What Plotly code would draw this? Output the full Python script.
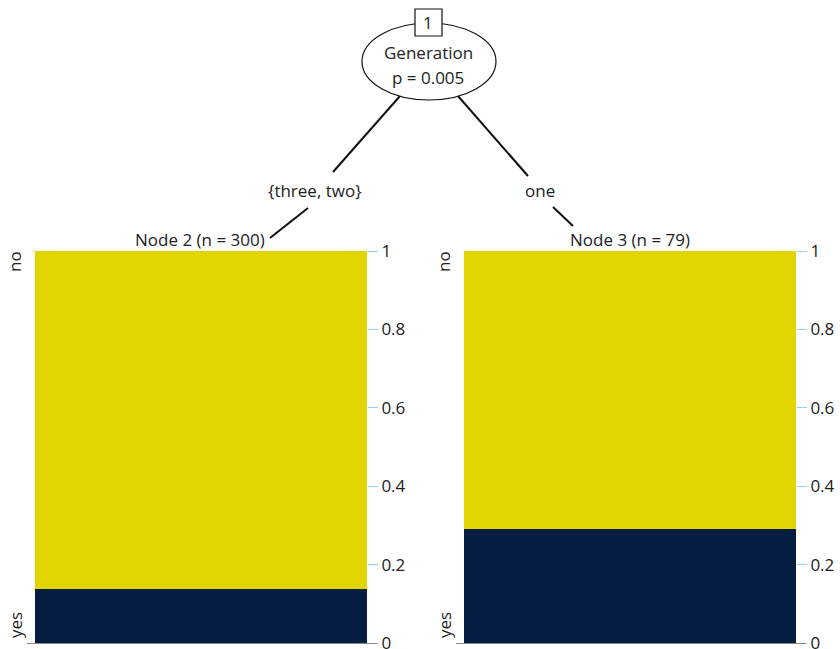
import plotly.graph_objects as go

W, H = 840, 649

# ---- data ----
node_labels = ["Node 2 (n = 300)", "Node 3 (n = 79)"]
node_n = [300, 79]
prop_yes = [41 / 300, 23 / 79]
prop_no = [1 - p for p in prop_yes]
classes = ["no", "yes"]
split_var = "Generation"
split_p = "p = 0.005"
edge_labels = ["{three, two}", "one"]
tick_vals = [0, 0.2, 0.4, 0.6, 0.8, 1]
tick_text = ["0", "0.2", "0.4", "0.6", "0.8", "1"]

YELLOW = "#E1D400"
NAVY = "#061D42"
TICK = "#8fd3ee"
FONT = "Open Sans"
TXT = "#222222"

def px(x):
    return x / W

def py(y):
    return 1 - y / H

fig = go.Figure()

panels = [(35, 367), (464, 796)]
y_top, y_bot = 251, 643

for i, (x0, x1) in enumerate(panels):
    xa = "x" if i == 0 else f"x{i+1}"
    ya_main = "y" if i == 0 else f"y{2*i+1}"
    fig.add_trace(go.Bar(x=[0], y=[prop_yes[i]], marker=dict(color=NAVY, line=dict(width=0)),
                         width=1, xaxis=xa, yaxis=ya_main, showlegend=False))
    fig.add_trace(go.Bar(x=[0], y=[prop_no[i]], marker=dict(color=YELLOW, line=dict(width=0)),
                         width=1, xaxis=xa, yaxis=ya_main, showlegend=False))

layout = dict(
    width=W, height=H, margin=dict(l=0, r=0, t=0, b=0, pad=0, autoexpand=False),
    paper_bgcolor="white", plot_bgcolor="white", barmode="stack",
    font=dict(family=FONT, size=17, color=TXT),
    showlegend=False,
)
for i, (x0, x1) in enumerate(panels):
    xk = "xaxis" if i == 0 else f"xaxis{i+1}"
    yk = "yaxis" if i == 0 else f"yaxis{2*i+1}"
    yk2 = f"yaxis{2*i+2}"
    xname = "x" if i == 0 else f"x{i+1}"
    yname = "y" if i == 0 else f"y{2*i+1}"
    layout[xk] = dict(domain=[px(x0), px(x1)], range=[-0.5, 0.5], visible=False,
                      fixedrange=True, automargin=False)
    layout[yk] = dict(domain=[py(y_bot), py(y_top)], range=[0, 1], anchor=xname, side="right",
                      tickmode="array", tickvals=tick_vals, ticktext=tick_text,
                      ticks="outside", ticklen=10, tickwidth=1, tickcolor=TICK,
                      ticklabeloverflow="allow",
                      showgrid=False, zeroline=False, showline=False, automargin=False,
                      tickfont=dict(family=FONT, size=17, color=TXT))
    layout[yk2] = dict(domain=[py(y_bot), py(y_top)], range=[0, 1], anchor=xname, side="left",
                       overlaying=yname, tickmode="array", tickvals=tick_vals,
                       ticks="outside", ticklen=8, tickwidth=1, tickcolor=TICK, automargin=False,
                       showticklabels=False, showgrid=False, zeroline=False, showline=False)
fig.update_layout(**layout)

shapes = []
annots = []

def ann(x, y, text, angle=0):
    annots.append(dict(x=px(x), y=py(y), xref="paper", yref="paper", text=text,
                       textangle=angle, showarrow=False, xanchor="center", yanchor="middle",
                       font=dict(size=17, family=FONT, color=TXT)))

for i, (x0, x1) in enumerate(panels):
    shapes.append(dict(type="line", xref="paper", yref="paper", x0=px(x0 - 8), x1=px(x1 + 10),
                       y0=py(y_bot + 0.5), y1=py(y_bot + 0.5), line=dict(color="#888888", width=1.2)))
    ann(x0 - 20, 262, classes[0], -90)
    ann(x0 - 20, 625, classes[1], -90)
ann(200, 239, node_labels[0])
ann(630, 239, node_labels[1])

edge_lines = [((400, 96), (333, 172)), ((308, 208), (270, 238)),
              ((458, 96), (528, 176)), ((553, 207), (573, 226))]
for (a, b) in edge_lines:
    shapes.append(dict(type="line", xref="paper", yref="paper", x0=px(a[0]), y0=py(a[1]),
                       x1=px(b[0]), y1=py(b[1]), line=dict(color="#111111", width=2)))

shapes.append(dict(type="circle", xref="paper", yref="paper", x0=px(362), x1=px(496),
                   y0=py(100), y1=py(23), line=dict(color="#111111", width=1.2), fillcolor="white"))
shapes.append(dict(type="rect", xref="paper", yref="paper", x0=px(415), x1=px(442),
                   y0=py(36), y1=py(9), line=dict(color="#111111", width=1.2), fillcolor="white"))

ann(428, 22, "1")
ann(428, 52, split_var)
ann(428, 78, split_p)
ann(315, 190, edge_labels[0])
ann(540, 190, edge_labels[1])

fig.update_layout(shapes=shapes, annotations=annots)
fig.write_html("out.html", config={"displayModeBar": False},
               post_script=("document.documentElement.style.margin='0';"
                            "document.body.style.margin='0';document.body.style.padding='0';"
                            "document.body.style.overflow='hidden';"
                            "var d=document.getElementById('{plot_id}');"
                            "d.style.position='absolute';d.style.top='0px';d.style.left='0px';"))
